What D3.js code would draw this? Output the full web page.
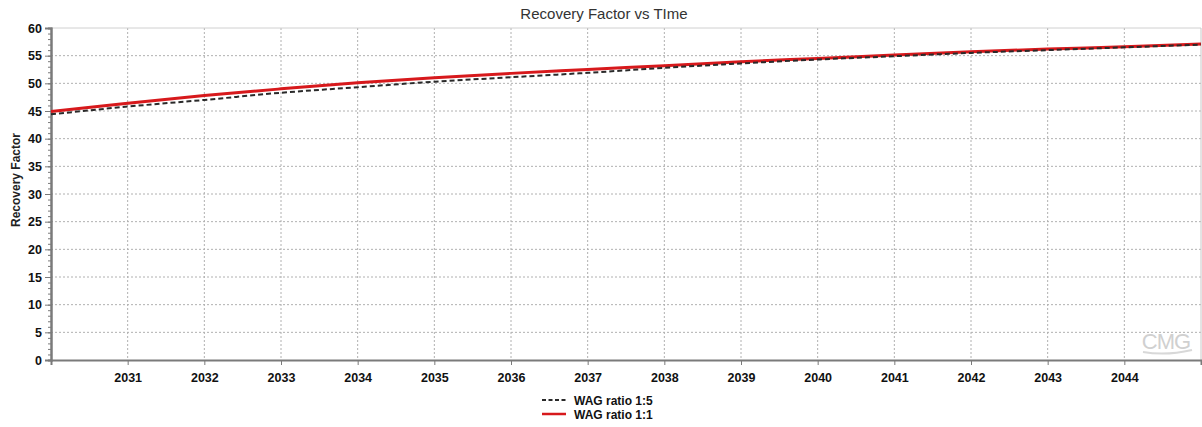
<!DOCTYPE html>
<html><head><meta charset="utf-8">
<script src="https://cdn.jsdelivr.net/npm/d3@7"></script>
<style>body{margin:0;background:#fff;} text{font-family:"Liberation Sans",Arial,sans-serif;}</style>
</head><body>
<svg id="c" width="1202" height="427"></svg>
<script>
const years = [2030,2031,2032,2033,2034,2035,2036,2037,2038,2039,2040,2041,2042,2043,2044,2045];
const wag15 = [44.4,45.8,47.0,48.3,49.3,50.3,51.1,51.9,52.8,53.6,54.3,54.9,55.5,56.0,56.5,57.0];
const wag11 = [44.9,46.4,47.8,49.0,50.1,51.0,51.8,52.5,53.2,53.9,54.5,55.1,55.7,56.2,56.6,57.1];
const xTicks = [2031,2032,2033,2034,2035,2036,2037,2038,2039,2040,2041,2042,2043,2044];
const yTicks = [0,5,10,15,20,25,30,35,40,45,50,55,60];
const seriesNames = ["WAG ratio 1:5","WAG ratio 1:1"];

const svg = d3.select("#c");
const L=51, R=1201, T=28, B=360;
const x = d3.scaleLinear().domain([2030,2045]).range([L,R]);
const y = d3.scaleLinear().domain([0,60]).range([B,T]);

// grid
const g = svg.append("g");
g.selectAll(".vg").data(xTicks).join("line")
  .attr("x1",d=>x(d)).attr("x2",d=>x(d)).attr("y1",T).attr("y2",B)
  .attr("stroke","#b0b0b0").attr("stroke-width",1).attr("stroke-dasharray","2,2");
g.selectAll(".hg").data(yTicks.filter(d=>d>0&&d<60)).join("line")
  .attr("x1",L).attr("x2",R).attr("y1",d=>y(d)).attr("y2",d=>y(d))
  .attr("stroke","#b0b0b0").attr("stroke-width",1).attr("stroke-dasharray","2,2");
// top & right border
svg.append("line").attr("x1",L).attr("x2",R).attr("y1",y(60)).attr("y2",y(60)).attr("stroke","#d0d0d0");
svg.append("line").attr("x1",R).attr("x2",R).attr("y1",T).attr("y2",B).attr("stroke","#c8c8c8");

// watermark
svg.append("text").attr("x",1166).attr("y",349).attr("text-anchor","middle")
  .attr("font-size",22).attr("fill","#d0d0d0").attr("letter-spacing","-1").text("CMG");
svg.append("path").attr("d","M1143,352 Q1166,356 1192,350").attr("stroke","#d8d8d8").attr("stroke-width",2).attr("fill","none");

// axes
const xAxis = d3.axisBottom(x).tickValues(xTicks).tickFormat(d3.format("d")).tickSize(5).tickPadding(8);
const xa = svg.append("g").attr("transform",`translate(0,${B})`).call(xAxis);
const yMinor = d3.range(0,61,1);
const ya = svg.append("g").attr("transform",`translate(${L},0)`)
  .call(d3.axisLeft(y).tickValues(yMinor).tickSize(3).tickFormat(""));
const yaM = svg.append("g").attr("transform",`translate(${L},0)`)
  .call(d3.axisLeft(y).tickValues(yTicks).tickSize(6).tickPadding(3));
[xa,ya,yaM].forEach(a=>{
  a.select(".domain").attr("stroke","#7a7a7a").attr("stroke-width",2);
  a.selectAll(".tick line").attr("stroke","#7a7a7a");
  a.selectAll("text").attr("font-size",12.5).attr("font-weight","bold").attr("fill","#111")
   .attr("font-family","'Liberation Sans',Arial,sans-serif");
});

// lines
const line = d3.line().x((d,i)=>x(years[i])).y(d=>y(d)).curve(d3.curveMonotoneX);
svg.append("path").datum(wag11).attr("d",line).attr("fill","none")
  .attr("stroke","#d7191c").attr("stroke-width",3);
svg.append("path").datum(wag15).attr("d",line).attr("fill","none")
  .attr("stroke","#2a2a2a").attr("stroke-width",2).attr("stroke-dasharray","5,3");

// title
svg.append("text").attr("x",604).attr("y",19).attr("text-anchor","middle")
  .attr("font-size",15).attr("fill","#333").text("Recovery Factor vs TIme");
// y title
svg.append("text").attr("transform","translate(20,180) rotate(-90)").attr("text-anchor","middle")
  .attr("font-size",12).attr("font-weight","bold").attr("fill","#222").text("Recovery Factor");

// legend
const lg = svg.append("g");
const styles = [{c:"#2a2a2a",w:1.8,d:"4,2.5"},{c:"#d7191c",w:2.5,d:null}];
seriesNames.forEach((n,i)=>{
  const yy = 400 + i*14;
  lg.append("line").attr("x1",542).attr("x2",566).attr("y1",yy).attr("y2",yy)
    .attr("stroke",styles[i].c).attr("stroke-width",styles[i].w).attr("stroke-dasharray",styles[i].d);
  lg.append("text").attr("x",574).attr("y",yy+4.5).attr("font-size",12).attr("font-weight","bold")
    .attr("fill","#111").text(n);
});
</script>
</body></html>
